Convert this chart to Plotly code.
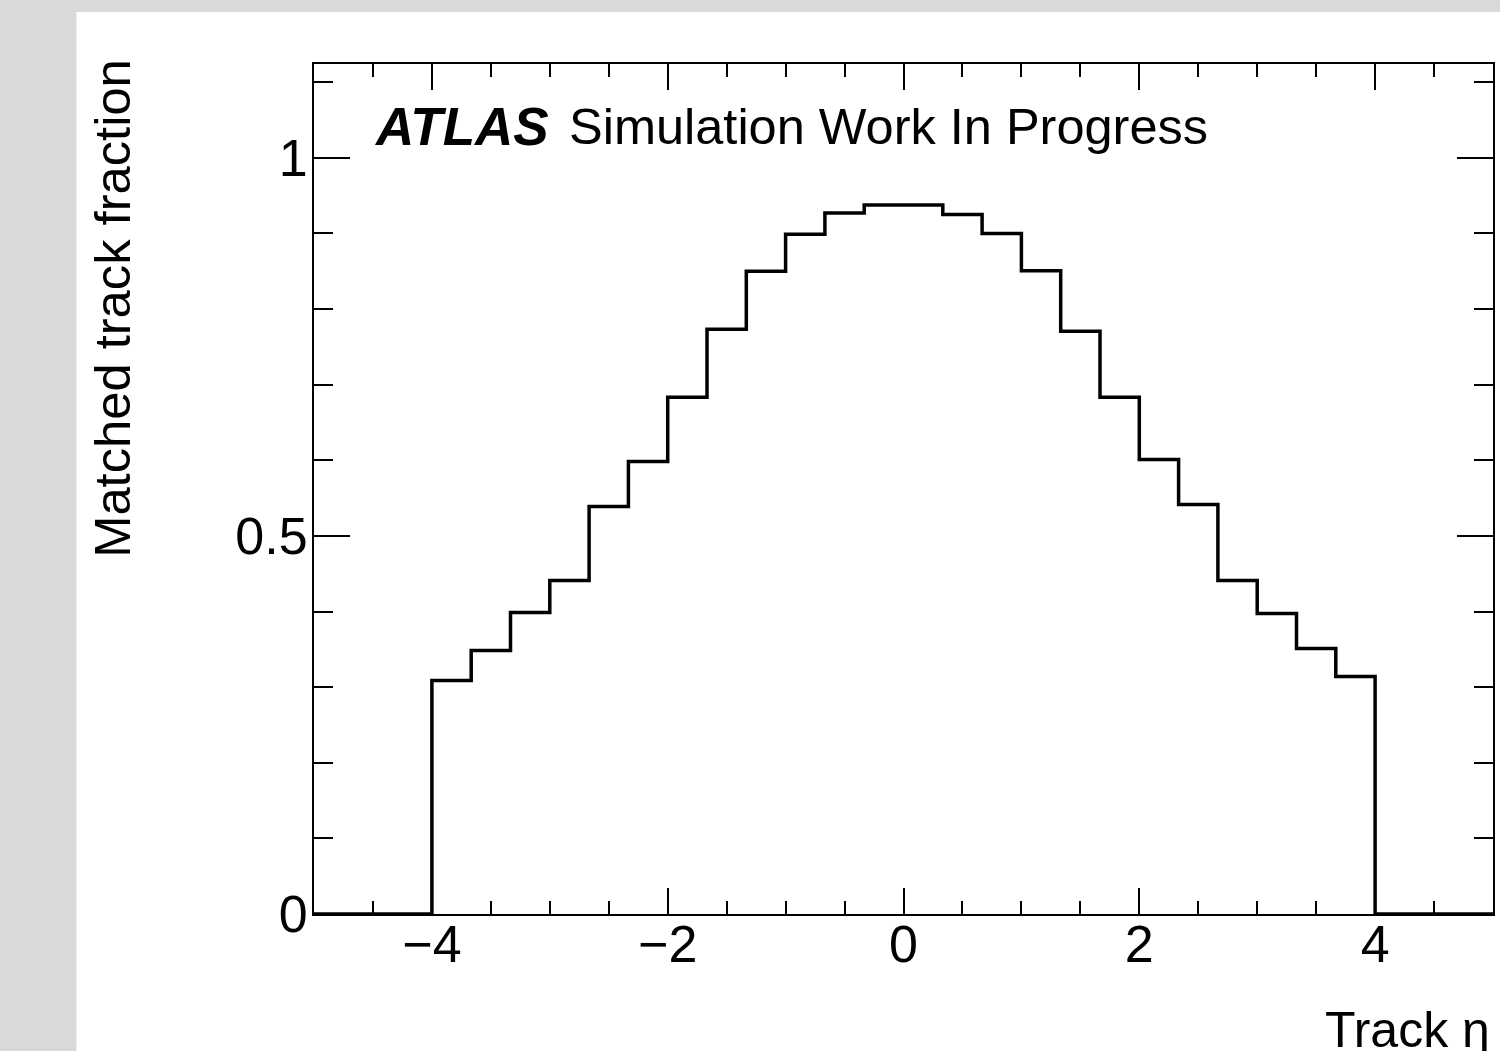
import numpy as np
import plotly.graph_objects as go

# Data: 30 bins of width 1/3 from -5 to 5
bin_edges = list(np.linspace(-5, 5, 31))
fraction = [
    0.0, 0.0, 0.0,
    0.3088, 0.3485, 0.3988, 0.4410, 0.5389, 0.5985, 0.6832, 0.7732, 0.8501,
    0.8990, 0.9270, 0.9375, 0.9375, 0.9250, 0.9000,
    0.8505, 0.7706, 0.6832, 0.6011, 0.5415, 0.4410, 0.3974, 0.3511, 0.3141,
    0.0, 0.0, 0.0,
]
x_ticks = [-4, -2, 0, 2, 4]
x_tick_text = ["\u22124", "\u22122", "0", "2", "4"]
y_ticks = [0, 0.5, 1]
y_tick_text = ["0", "0.5", "1"]

W, H = 1500, 1051
L, R, T, B = 314, 5, 64, 137
PW, PH = W - L - R, H - T - B


def px(xp):
    return (xp - L) / PW


def py(yp):
    return (H - B - yp) / PH


FONT = "Liberation Sans, Arial, Helvetica, sans-serif"

xs = bin_edges
ys = fraction + [fraction[-1]]

fig = go.Figure()
fig.add_trace(go.Scatter(
    x=xs, y=ys, mode="lines", line=dict(shape="hv", color="black", width=3.5),
    hoverinfo="skip", showlegend=False,
))

axis_common = dict(
    showline=True, linecolor="black", linewidth=2, mirror="allticks",
    ticks="inside", tickcolor="black", tickwidth=2,
    showgrid=False, zeroline=False,
    tickfont=dict(family=FONT, size=52, color="black"),
)

fig.update_xaxes(
    range=[-5, 5], tickmode="array", tickvals=x_ticks, ticktext=x_tick_text,
    ticklen=26, ticklabelstandoff=-16,
    minor=dict(ticks="inside", dtick=0.5, ticklen=13, tickwidth=2, tickcolor="black", showgrid=False),
    **axis_common,
)
fig.update_yaxes(
    range=[0, 1.124], tickmode="array", tickvals=y_ticks, ticktext=y_tick_text,
    ticklen=36, ticklabelstandoff=-6,
    minor=dict(ticks="inside", dtick=0.1, ticklen=19, tickwidth=2, tickcolor="black", showgrid=False),
    **axis_common,
)

# white canvas region over grey surround
fig.add_shape(type="rect", xref="paper", yref="paper",
              x0=px(76), x1=px(1500 + 5), y0=py(12), y1=py(H + 5),
              fillcolor="white", line=dict(width=0), layer="below")

fig.add_annotation(
    text="<b><i>ATLAS</i></b>", xref="paper", yref="paper",
    x=px(372), y=py(126), xanchor="left", yanchor="middle", showarrow=False,
    font=dict(family=FONT, size=53, color="black"),
)
fig.add_annotation(
    text="Simulation Work In Progress", xref="paper", yref="paper",
    x=px(567), y=py(126), xanchor="left", yanchor="middle", showarrow=False,
    font=dict(family=FONT, size=50.5, color="black"),
)
fig.add_annotation(
    text="Matched track fraction", xref="paper", yref="paper",
    x=px(112), y=py(57), xanchor="center", yanchor="top", textangle=-90,
    showarrow=False, font=dict(family=FONT, size=50.7, color="black"),
)
fig.add_annotation(
    text="Track \u03b7", xref="paper", yref="paper",
    x=px(1494), y=py(1000), xanchor="right", yanchor="top",
    showarrow=False, font=dict(family=FONT, size=50, color="black"),
)

fig.update_layout(
    width=W, height=H,
    margin=dict(l=L, r=R, t=T, b=B, pad=0),
    paper_bgcolor="#d9d9d9", plot_bgcolor="white",
    showlegend=False,
)

fig.write_html("out.html")
